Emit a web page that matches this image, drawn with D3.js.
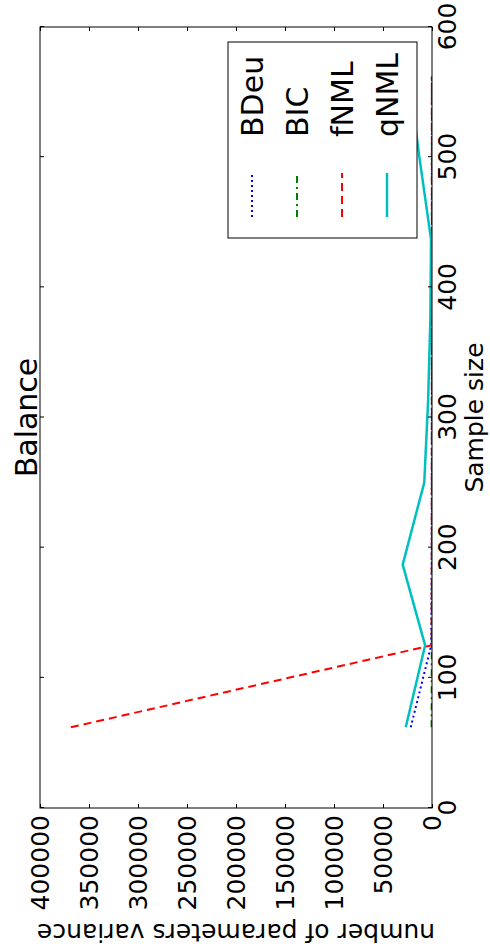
<!DOCTYPE html>
<html>
<head>
<meta charset="utf-8">
<script src="https://cdn.jsdelivr.net/npm/d3@7"></script>
<style>
  html, body { margin: 0; padding: 0; background: #fff; }
  svg { display: block; font-family: "DejaVu Sans", sans-serif; }
</style>
</head>
<body>
<svg id="chart" width="490" height="952"></svg>
<script>
// Sample sizes drawn from the Balance data set
const sampleSizes = [62, 125, 187, 250, 312, 375, 437, 500, 562];

// Variance of the number of parameters for each scoring criterion
const bdeuValues = [21700, 800, 300, 200, 150, 100, 100, 100, 100];
const bicValues  = [400, 200, 100, 100, 100, 100, 100, 100, 100];
const fnmlValues = [368500, 300, 200, 150, 100, 100, 100, 100, 100];
const qnmlValues = [26800, 7000, 29900, 7900, 4000, 1700, 1000, 12900, 23500];

const seriesNames = ["BDeu", "BIC", "fNML", "qNML"];
const xTicks = [0, 100, 200, 300, 400, 500, 600];
const yTicks = [0, 50000, 100000, 150000, 200000, 250000, 300000, 350000, 400000];

const series = [
  { name: seriesNames[0], values: bdeuValues, color: "#0000ff", dash: "2,3", width: 2 },
  { name: seriesNames[1], values: bicValues,  color: "#008000", dash: "7,4,2,4", width: 2 },
  { name: seriesNames[2], values: fnmlValues, color: "#ff0000", dash: "8,5", width: 2 },
  { name: seriesNames[3], values: qnmlValues, color: "#00bfbf", dash: null, width: 2.5 }
];

// The figure is laid out landscape (952 x 490) and turned a quarter turn
const W = 952, H = 490;
const plotLeft = 144, plotRight = 925, plotTop = 40, plotBottom = 432;

const svg = d3.select("#chart");
const g = svg.append("g").attr("transform", `translate(0,${W}) rotate(-90)`);

const x = d3.scaleLinear().domain([0, 600]).range([plotLeft, plotRight]);
const y = d3.scaleLinear().domain([0, 400000]).range([plotBottom, plotTop]);

g.append("defs").append("clipPath").attr("id", "plot-clip")
  .append("rect").attr("x", plotLeft).attr("y", plotTop)
  .attr("width", plotRight - plotLeft).attr("height", plotBottom - plotTop);

// Lines
const line = d3.line().x((d, i) => x(sampleSizes[i])).y(d => y(d));
const lines = g.append("g").attr("clip-path", "url(#plot-clip)");
series.forEach(s => {
  lines.append("path")
    .datum(s.values)
    .attr("d", line)
    .attr("fill", "none")
    .attr("stroke", s.color)
    .attr("stroke-width", s.width)
    .attr("stroke-dasharray", s.dash)
    .attr("stroke-linejoin", "round");
});

// Axes: inward ticks on all four sides, labels on bottom and left
const fmt = d3.format("d");
const axB = g.append("g").attr("transform", `translate(0,${plotBottom})`)
  .call(d3.axisBottom(x).tickValues(xTicks).tickFormat(fmt).tickSize(-4).tickSizeOuter(0).tickPadding(6));
const axT = g.append("g").attr("transform", `translate(0,${plotTop})`)
  .call(d3.axisTop(x).tickValues(xTicks).tickFormat("").tickSize(-4).tickSizeOuter(0));
const axL = g.append("g").attr("transform", `translate(${plotLeft},0)`)
  .call(d3.axisLeft(y).tickValues(yTicks).tickFormat(fmt).tickSize(-4).tickSizeOuter(0).tickPadding(7));
const axR = g.append("g").attr("transform", `translate(${plotRight},0)`)
  .call(d3.axisRight(y).tickValues(yTicks).tickFormat("").tickSize(-4).tickSizeOuter(0));

[axB, axT, axL, axR].forEach(a => {
  a.select(".domain").remove();
  a.selectAll("line").attr("stroke", "#000").attr("stroke-width", 1);
  a.selectAll("text").attr("font-family", "DejaVu Sans").attr("font-size", 25).attr("fill", "#000");
});

// Frame
g.append("rect")
  .attr("x", plotLeft).attr("y", plotTop)
  .attr("width", plotRight - plotLeft).attr("height", plotBottom - plotTop)
  .attr("fill", "none").attr("stroke", "#000").attr("stroke-width", 1);

// Title and axis labels
g.append("text")
  .attr("x", (plotLeft + plotRight) / 2).attr("y", 37)
  .attr("text-anchor", "middle").attr("font-size", 30)
  .text("Balance");

g.append("text")
  .attr("x", (plotLeft + plotRight) / 2).attr("y", 483)
  .attr("text-anchor", "middle").attr("font-size", 25)
  .text("Sample size");

g.append("text")
  .attr("transform", `translate(28,${(plotTop + plotBottom) / 2}) rotate(-90)`)
  .attr("text-anchor", "middle").attr("font-size", 25)
  .text("number of parameters variance");

// Legend
const legend = g.append("g");
legend.append("rect")
  .attr("x", 714).attr("y", 228).attr("width", 196).attr("height", 189)
  .attr("fill", "#fff").attr("stroke", "#000").attr("stroke-width", 1);
series.forEach((s, i) => {
  const yy = 252 + i * 45;
  legend.append("line")
    .attr("x1", 735).attr("x2", 779).attr("y1", yy).attr("y2", yy)
    .attr("stroke", s.color).attr("stroke-width", s.width)
    .attr("stroke-dasharray", s.dash);
  legend.append("text")
    .attr("x", 815).attr("y", yy + 11)
    .attr("font-size", 30)
    .text(s.name);
});
</script>
</body>
</html>
